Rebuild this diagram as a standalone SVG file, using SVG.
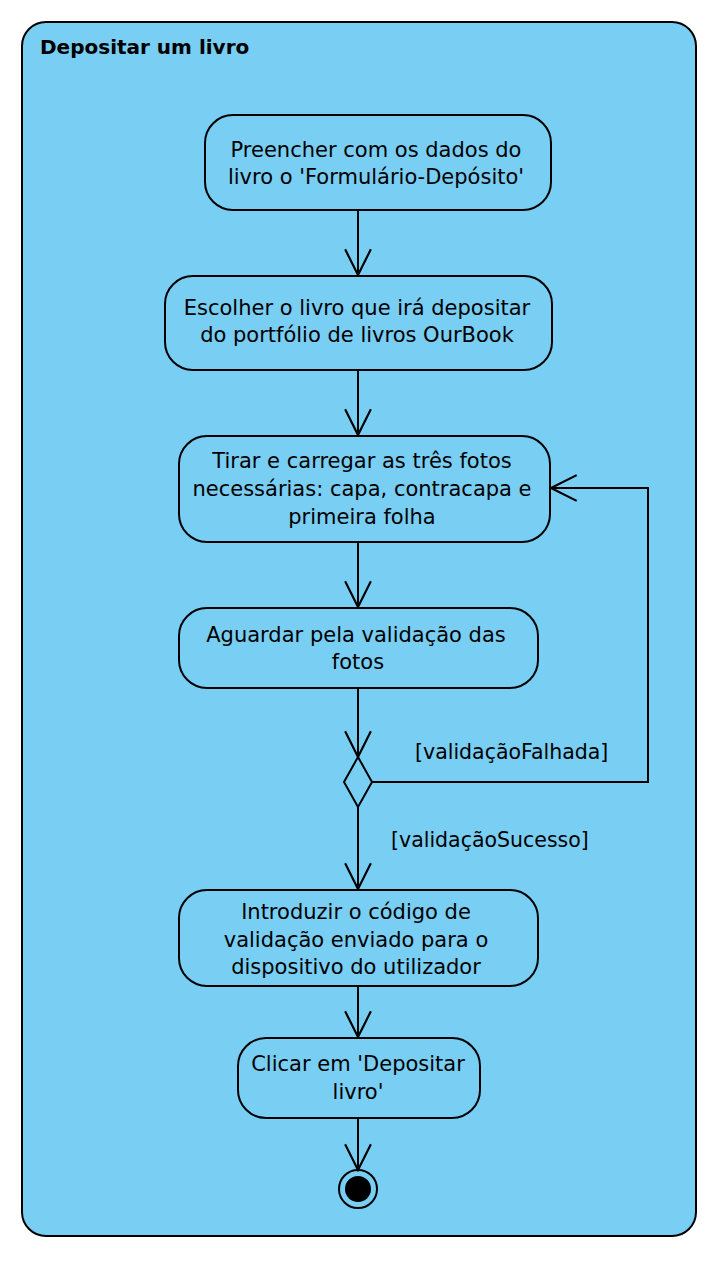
<svg xmlns="http://www.w3.org/2000/svg" width="722" height="1270" viewBox="0 0 722 1270">
<defs>
<style>
.frame{fill:#79CEF4;stroke:#000;stroke-width:2}
.act{fill:#79CEF4;stroke:#000;stroke-width:2}
.t{font-family:"DejaVu Sans",Verdana,sans-serif;font-size:21px;fill:#000;text-anchor:middle}
.lbl{font-family:"DejaVu Sans",Verdana,sans-serif;font-size:20.5px;fill:#000}
.title{font-family:"DejaVu Sans",Verdana,sans-serif;font-size:20px;font-weight:bold;fill:#000}
.c{fill:none;stroke:#000;stroke-width:2;marker-end:url(#arr)}
</style>
<marker id="arr" markerUnits="userSpaceOnUse" markerWidth="30" markerHeight="30" viewBox="-26 -14 28 28" refX="0" refY="0" orient="auto">
<path d="M-24,-12 L0,0 L-24,12" fill="none" stroke="#000" stroke-width="2"/>
</marker>
</defs>
<g id="frame">
<rect class="frame" x="22" y="22" width="674" height="1214" rx="24"/>
<text class="title" x="40" y="54">Depositar um livro</text>
</g>
<g id="connectors">
<path class="c" d="M358,210 V275"/>
<path class="c" d="M358,370 V435"/>
<path class="c" d="M358,542 V607"/>
<path class="c" d="M358,688 V757"/>
<path class="c" d="M372,782 H648 V488 H551"/>
<path class="c" d="M358,807 V889"/>
<path class="c" d="M358,986 V1037"/>
<path class="c" d="M358,1118 V1170"/>
<text class="lbl" x="415" y="759">[validaçãoFalhada]</text>
<text class="lbl" x="391" y="847">[validaçãoSucesso]</text>
</g>
<g id="n1">
<rect class="act" x="205" y="115" width="346" height="95" rx="28"/>
<text class="t" x="376" y="157">Preencher com os dados do</text>
<text class="t" x="376" y="184">livro o 'Formulário-Depósito'</text>
</g>
<g id="n2">
<rect class="act" x="165" y="276" width="387" height="94" rx="28"/>
<text class="t" x="357" y="315">Escolher o livro que irá depositar</text>
<text class="t" x="357" y="342">do portfólio de livros OurBook</text>
</g>
<g id="n3">
<rect class="act" x="179" y="436" width="371" height="106" rx="28"/>
<text class="t" x="362" y="468">Tirar e carregar as três fotos</text>
<text class="t" x="362" y="496">necessárias: capa, contracapa e</text>
<text class="t" x="362" y="524">primeira folha</text>
</g>
<g id="n4">
<rect class="act" x="179" y="608" width="359" height="80" rx="28"/>
<text class="t" x="356" y="642">Aguardar pela validação das</text>
<text class="t" x="358" y="669">fotos</text>
</g>
<g id="decision">
<path class="act" d="M358,757 L372,782 L358,807 L344,782 Z"/>
</g>
<g id="n5">
<rect class="act" x="179" y="890" width="359" height="96" rx="28"/>
<text class="t" x="356" y="919">Introduzir o código de</text>
<text class="t" x="356" y="947">validação enviado para o</text>
<text class="t" x="356" y="974">dispositivo do utilizador</text>
</g>
<g id="n6">
<rect class="act" x="238" y="1038" width="242" height="80" rx="28"/>
<text class="t" x="358" y="1071">Clicar em 'Depositar</text>
<text class="t" x="358" y="1099">livro'</text>
</g>
<g id="final">
<circle cx="358" cy="1189" r="19" fill="none" stroke="#000" stroke-width="2"/>
<circle cx="358" cy="1189" r="13" fill="#000"/>
</g>
</svg>
